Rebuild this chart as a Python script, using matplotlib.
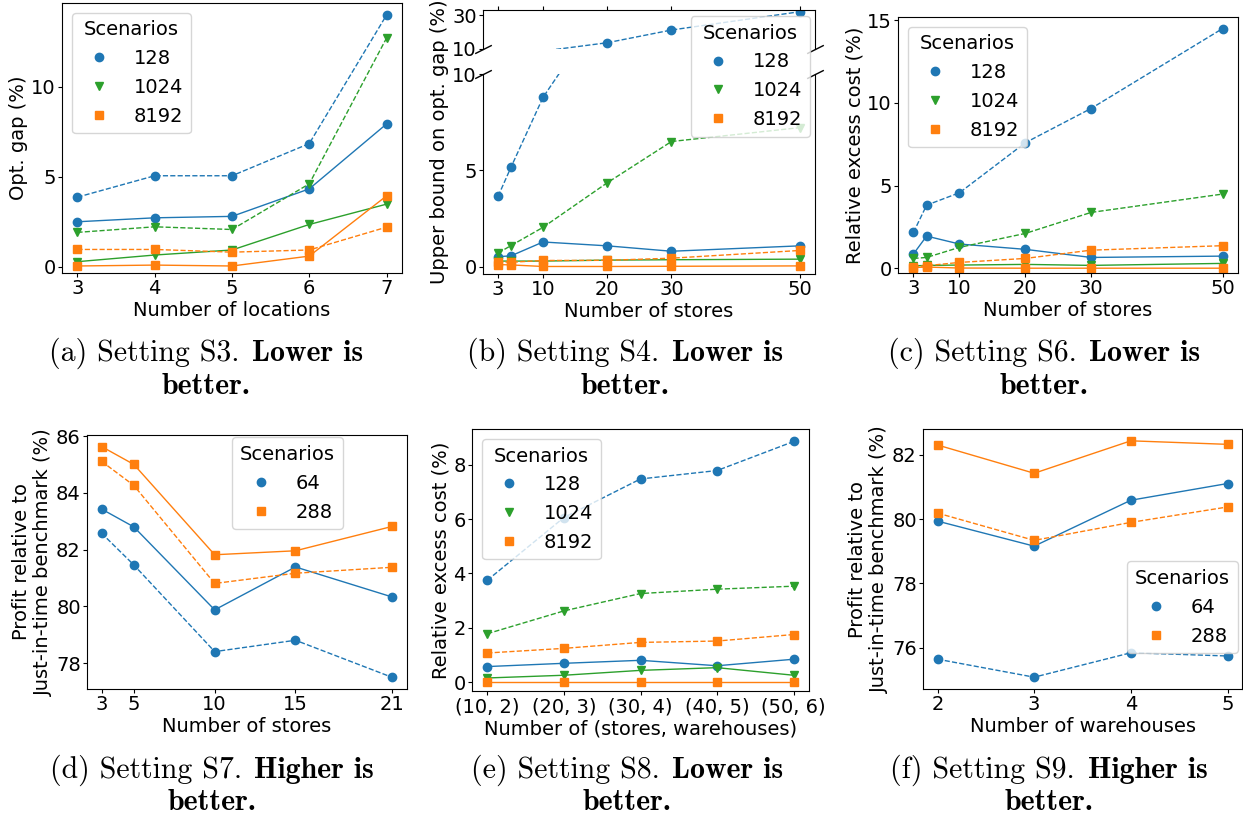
import matplotlib.pyplot as plt
from matplotlib.lines import Line2D
from matplotlib.offsetbox import TextArea, HPacker, AnnotationBbox

plt.rcParams['font.size'] = 14
plt.rcParams['xtick.major.pad'] = 1.5
plt.rcParams['ytick.major.pad'] = 1.5
plt.rcParams['xtick.major.size'] = 3
plt.rcParams['ytick.major.size'] = 3
plt.rcParams['axes.labelpad'] = 2

W, H = 1243, 817
BLUE, GREEN, ORANGE = '#1f77b4', '#2ca02c', '#ff7f0e'

# Setting S3 - optimality gap vs number of locations
s3_locations = [3, 4, 5, 6, 7]
s3_128_solid = [2.50, 2.72, 2.80, 4.33, 7.94]
s3_128_dashed = [3.87, 5.06, 5.06, 6.85, 14.0]
s3_1024_solid = [0.28, 0.65, 0.93, 2.35, 3.48]
s3_1024_dashed = [1.91, 2.22, 2.07, 4.61, 12.72]
s3_8192_solid = [0.04, 0.09, 0.04, 0.59, 3.94]
s3_8192_dashed = [0.96, 0.96, 0.81, 0.93, 2.20]

# Setting S4 - upper bound on opt. gap vs number of stores
s4_stores = [3, 5, 10, 20, 30, 50]
s4_128_solid = [0.53, 0.57, 1.29, 1.09, 0.81, 1.09]
s4_128_dashed = [3.66, 5.16, 8.79, 13.7, 21.2, 32.0]
s4_1024_solid = [0.30, 0.30, 0.30, 0.35, 0.37, 0.40]
s4_1024_dashed = [0.72, 1.10, 2.05, 4.36, 6.50, 7.22]
s4_8192_solid = [0.12, 0.10, 0.02, 0.02, 0.03, 0.05]
s4_8192_dashed = [0.27, 0.24, 0.33, 0.34, 0.45, 0.85]

# Setting S6 - relative excess cost vs number of stores
s6_stores = [3, 5, 10, 20, 30, 50]
s6_128_solid = [0.87, 1.95, 1.47, 1.15, 0.66, 0.74]
s6_128_dashed = [2.17, 3.82, 4.57, 7.59, 9.66, 14.49]
s6_1024_solid = [0.15, 0.18, 0.20, 0.24, 0.18, 0.30]
s6_1024_dashed = [0.60, 0.66, 1.27, 2.11, 3.38, 4.49]
s6_8192_solid = [0.05, 0.08, 0.02, 0.01, 0.01, 0.01]
s6_8192_dashed = [0.10, 0.16, 0.36, 0.60, 1.10, 1.37]

# Setting S7 - profit relative to JIT benchmark vs number of stores
s7_stores = [3, 5, 10, 15, 21]
s7_64_solid = [83.43, 82.80, 79.88, 81.39, 80.33]
s7_64_dashed = [82.58, 81.46, 78.41, 78.81, 77.50]
s7_288_solid = [85.63, 85.00, 81.82, 81.96, 82.82]
s7_288_dashed = [85.11, 84.26, 80.81, 81.17, 81.38]

# Setting S8 - relative excess cost vs (stores, warehouses)
s8_labels = ['(10, 2)', '(20, 3)', '(30, 4)', '(40, 5)', '(50, 6)']
s8_128_solid = [0.57, 0.69, 0.80, 0.60, 0.84]
s8_128_dashed = [3.75, 6.06, 7.48, 7.79, 8.86]
s8_1024_solid = [0.15, 0.25, 0.43, 0.53, 0.25]
s8_1024_dashed = [1.78, 2.62, 3.26, 3.42, 3.53]
s8_8192_solid = [0.0, 0.0, 0.0, 0.0, 0.0]
s8_8192_dashed = [1.07, 1.24, 1.46, 1.51, 1.75]

# Setting S9 - profit relative to JIT benchmark vs number of warehouses
s9_warehouses = [2, 3, 4, 5]
s9_64_solid = [79.94, 79.16, 80.59, 81.11]
s9_64_dashed = [75.64, 75.08, 75.84, 75.74]
s9_288_solid = [82.31, 81.43, 82.44, 82.33]
s9_288_dashed = [80.19, 79.34, 79.90, 80.38]

caption_setting = ['(a) Setting S3.', '(b) Setting S4.', '(c) Setting S6.',
                   '(d) Setting S7.', '(e) Setting S8.', '(f) Setting S9.']
caption_verdict = ['Lower is', 'Lower is', 'Lower is', 'Higher is', 'Lower is', 'Higher is']


def px_axes(fig, left, top, right, bottom):
    return fig.add_axes([left / W, 1 - bottom / H, (right - left) / W, (bottom - top) / H])


def draw_pair(ax, x, solid, dashed, color, marker, ylo=None):
    for vals, ls in ((dashed, '--'), (solid, '-')):
        every = None
        if ylo is not None:
            # hide markers that would poke up from below a cut axis
            every = [i for i, v in enumerate(vals) if v >= ylo]
        ax.plot(x, vals, color=color, marker=marker, linestyle=ls, linewidth=1, markevery=every)


def scen_legend(ax, labels, colors, markers, **kw):
    handles = [Line2D([], [], color=c, marker=m, linestyle='none') for c, m in zip(colors, markers)]
    return ax.legend(handles, labels, title='Scenarios', fontsize=14, title_fontsize=14, **kw)


def caption(fig, cx, cy, regular, bold, size=21.5):
    parts = []
    if regular:
        parts.append(TextArea(regular, textprops=dict(family='cmr10', size=size)))
    parts.append(TextArea(bold, textprops=dict(family='cmb10', size=size)))
    box = HPacker(children=parts, align='baseline', pad=0, sep=9)
    ab = AnnotationBbox(box, (cx / W, 1 - cy / H), xycoords='figure fraction',
                        frameon=False, box_alignment=(0.5, 0.5), pad=0)
    fig.add_artist(ab)


fig = plt.figure(figsize=(W / 100, H / 100), dpi=100)

# (a)
ax = px_axes(fig, 62, 3, 402, 273)
draw_pair(ax, s3_locations, s3_128_solid, s3_128_dashed, BLUE, 'o')
draw_pair(ax, s3_locations, s3_1024_solid, s3_1024_dashed, GREEN, 'v')
draw_pair(ax, s3_locations, s3_8192_solid, s3_8192_dashed, ORANGE, 's')
ax.set_xticks(s3_locations)
ax.set_ylim(-0.35, 14.67)
ax.set_xlabel('Number of locations')
ax.set_ylabel('Opt. gap (%)')
scen_legend(ax, ['128', '1024', '8192'], [BLUE, GREEN, ORANGE], ['o', 'v', 's'], loc='upper left')

# (b) broken y axis
ax_top = px_axes(fig, 483, 10, 815, 49)
ax_bot = px_axes(fig, 483, 74, 815, 274)
for a, lo in ((ax_top, 10), (ax_bot, None)):
    draw_pair(a, s4_stores, s4_128_solid, s4_128_dashed, BLUE, 'o', lo)
    draw_pair(a, s4_stores, s4_1024_solid, s4_1024_dashed, GREEN, 'v', lo)
    draw_pair(a, s4_stores, s4_8192_solid, s4_8192_dashed, ORANGE, 's', lo)
    a.set_xlim(0.65, 52.35)
    a.set_xticks([3, 10, 20, 30, 50])
ax_top.set_ylim(10, 33)
ax_top.set_yticks([10, 30])
ax_bot.set_ylim(-0.37, 10)
ax_bot.set_yticks([0, 5, 10])
ax_top.spines['bottom'].set_visible(False)
ax_bot.spines['top'].set_visible(False)
ax_top.xaxis.tick_top()
ax_top.tick_params(labeltop=False)
ax_bot.xaxis.tick_bottom()
d = 0.5
brk = dict(marker=[(-1, -d), (1, d)], markersize=12, linestyle='none',
           color='k', mec='k', mew=1, clip_on=False)
ax_top.plot([0, 1], [0, 0], transform=ax_top.transAxes, **brk)
ax_bot.plot([0, 1], [1, 1], transform=ax_bot.transAxes, **brk)
ax_bot.set_xlabel('Number of stores')
ax_bot.set_ylabel('Upper bound on opt. gap (%)')
ax_bot.yaxis.label.set_y(0.66)
scen_legend(ax_bot, ['128', '1024', '8192'], [BLUE, GREEN, ORANGE], ['o', 'v', 's'],
            loc='upper right', bbox_to_anchor=(0.985, 1.29), borderaxespad=0)

# (c)
ax = px_axes(fig, 898, 17, 1238, 273)
draw_pair(ax, s6_stores, s6_128_solid, s6_128_dashed, BLUE, 'o')
draw_pair(ax, s6_stores, s6_1024_solid, s6_1024_dashed, GREEN, 'v')
draw_pair(ax, s6_stores, s6_8192_solid, s6_8192_dashed, ORANGE, 's')
ax.set_xticks([3, 10, 20, 30, 50])
ax.set_ylim(-0.28, 15.19)
ax.set_xlabel('Number of stores')
ax.set_ylabel('Relative excess cost (%)')
scen_legend(ax, ['128', '1024', '8192'], [BLUE, GREEN, ORANGE], ['o', 'v', 's'], loc='upper left')

# (d)
ax = px_axes(fig, 87, 435, 407, 689)
draw_pair(ax, s7_stores, s7_64_solid, s7_64_dashed, BLUE, 'o')
draw_pair(ax, s7_stores, s7_288_solid, s7_288_dashed, ORANGE, 's')
ax.set_xticks(s7_stores)
ax.set_xlabel('Number of stores')
ax.set_ylabel('Profit relative to\nJust-in-time benchmark (%)')
scen_legend(ax, ['64', '288'], [BLUE, ORANGE], ['o', 's'],
            loc='upper left', bbox_to_anchor=(0.453, 0.991), borderaxespad=0)

# (e)
ax = px_axes(fig, 472, 429, 809, 691)
s8_pos = list(range(len(s8_labels)))
draw_pair(ax, s8_pos, s8_128_solid, s8_128_dashed, BLUE, 'o')
draw_pair(ax, s8_pos, s8_1024_solid, s8_1024_dashed, GREEN, 'v')
draw_pair(ax, s8_pos, s8_8192_solid, s8_8192_dashed, ORANGE, 's')
ax.set_xticks(s8_pos)
ax.set_xticklabels(s8_labels)
ax.set_ylim(-0.33, 9.32)
ax.set_xlabel('Number of (stores, warehouses)')
ax.set_ylabel('Relative excess cost (%)')
scen_legend(ax, ['128', '1024', '8192'], [BLUE, GREEN, ORANGE], ['o', 'v', 's'], loc='upper left')

# (f)
ax = px_axes(fig, 923, 429, 1242, 689)
draw_pair(ax, s9_warehouses, s9_64_solid, s9_64_dashed, BLUE, 'o')
draw_pair(ax, s9_warehouses, s9_288_solid, s9_288_dashed, ORANGE, 's')
ax.set_xticks(s9_warehouses)
ax.set_xlabel('Number of warehouses')
ax.set_ylabel('Profit relative to\nJust-in-time benchmark (%)')
scen_legend(ax, ['64', '288'], [BLUE, ORANGE], ['o', 's'],
            loc='upper right', bbox_to_anchor=(0.986, 0.491), borderaxespad=0)

# sub-figure captions
cap_x = [206, 625, 1044, 212, 627, 1049]
cap_y = [353, 353, 353, 770, 770, 770]
for cx, cy, setting, verdict in zip(cap_x, cap_y, caption_setting, caption_verdict):
    caption(fig, cx, cy, setting, verdict)
    caption(fig, cx, cy + 33, None, 'better.')

fig.savefig('out.png', dpi=100)
